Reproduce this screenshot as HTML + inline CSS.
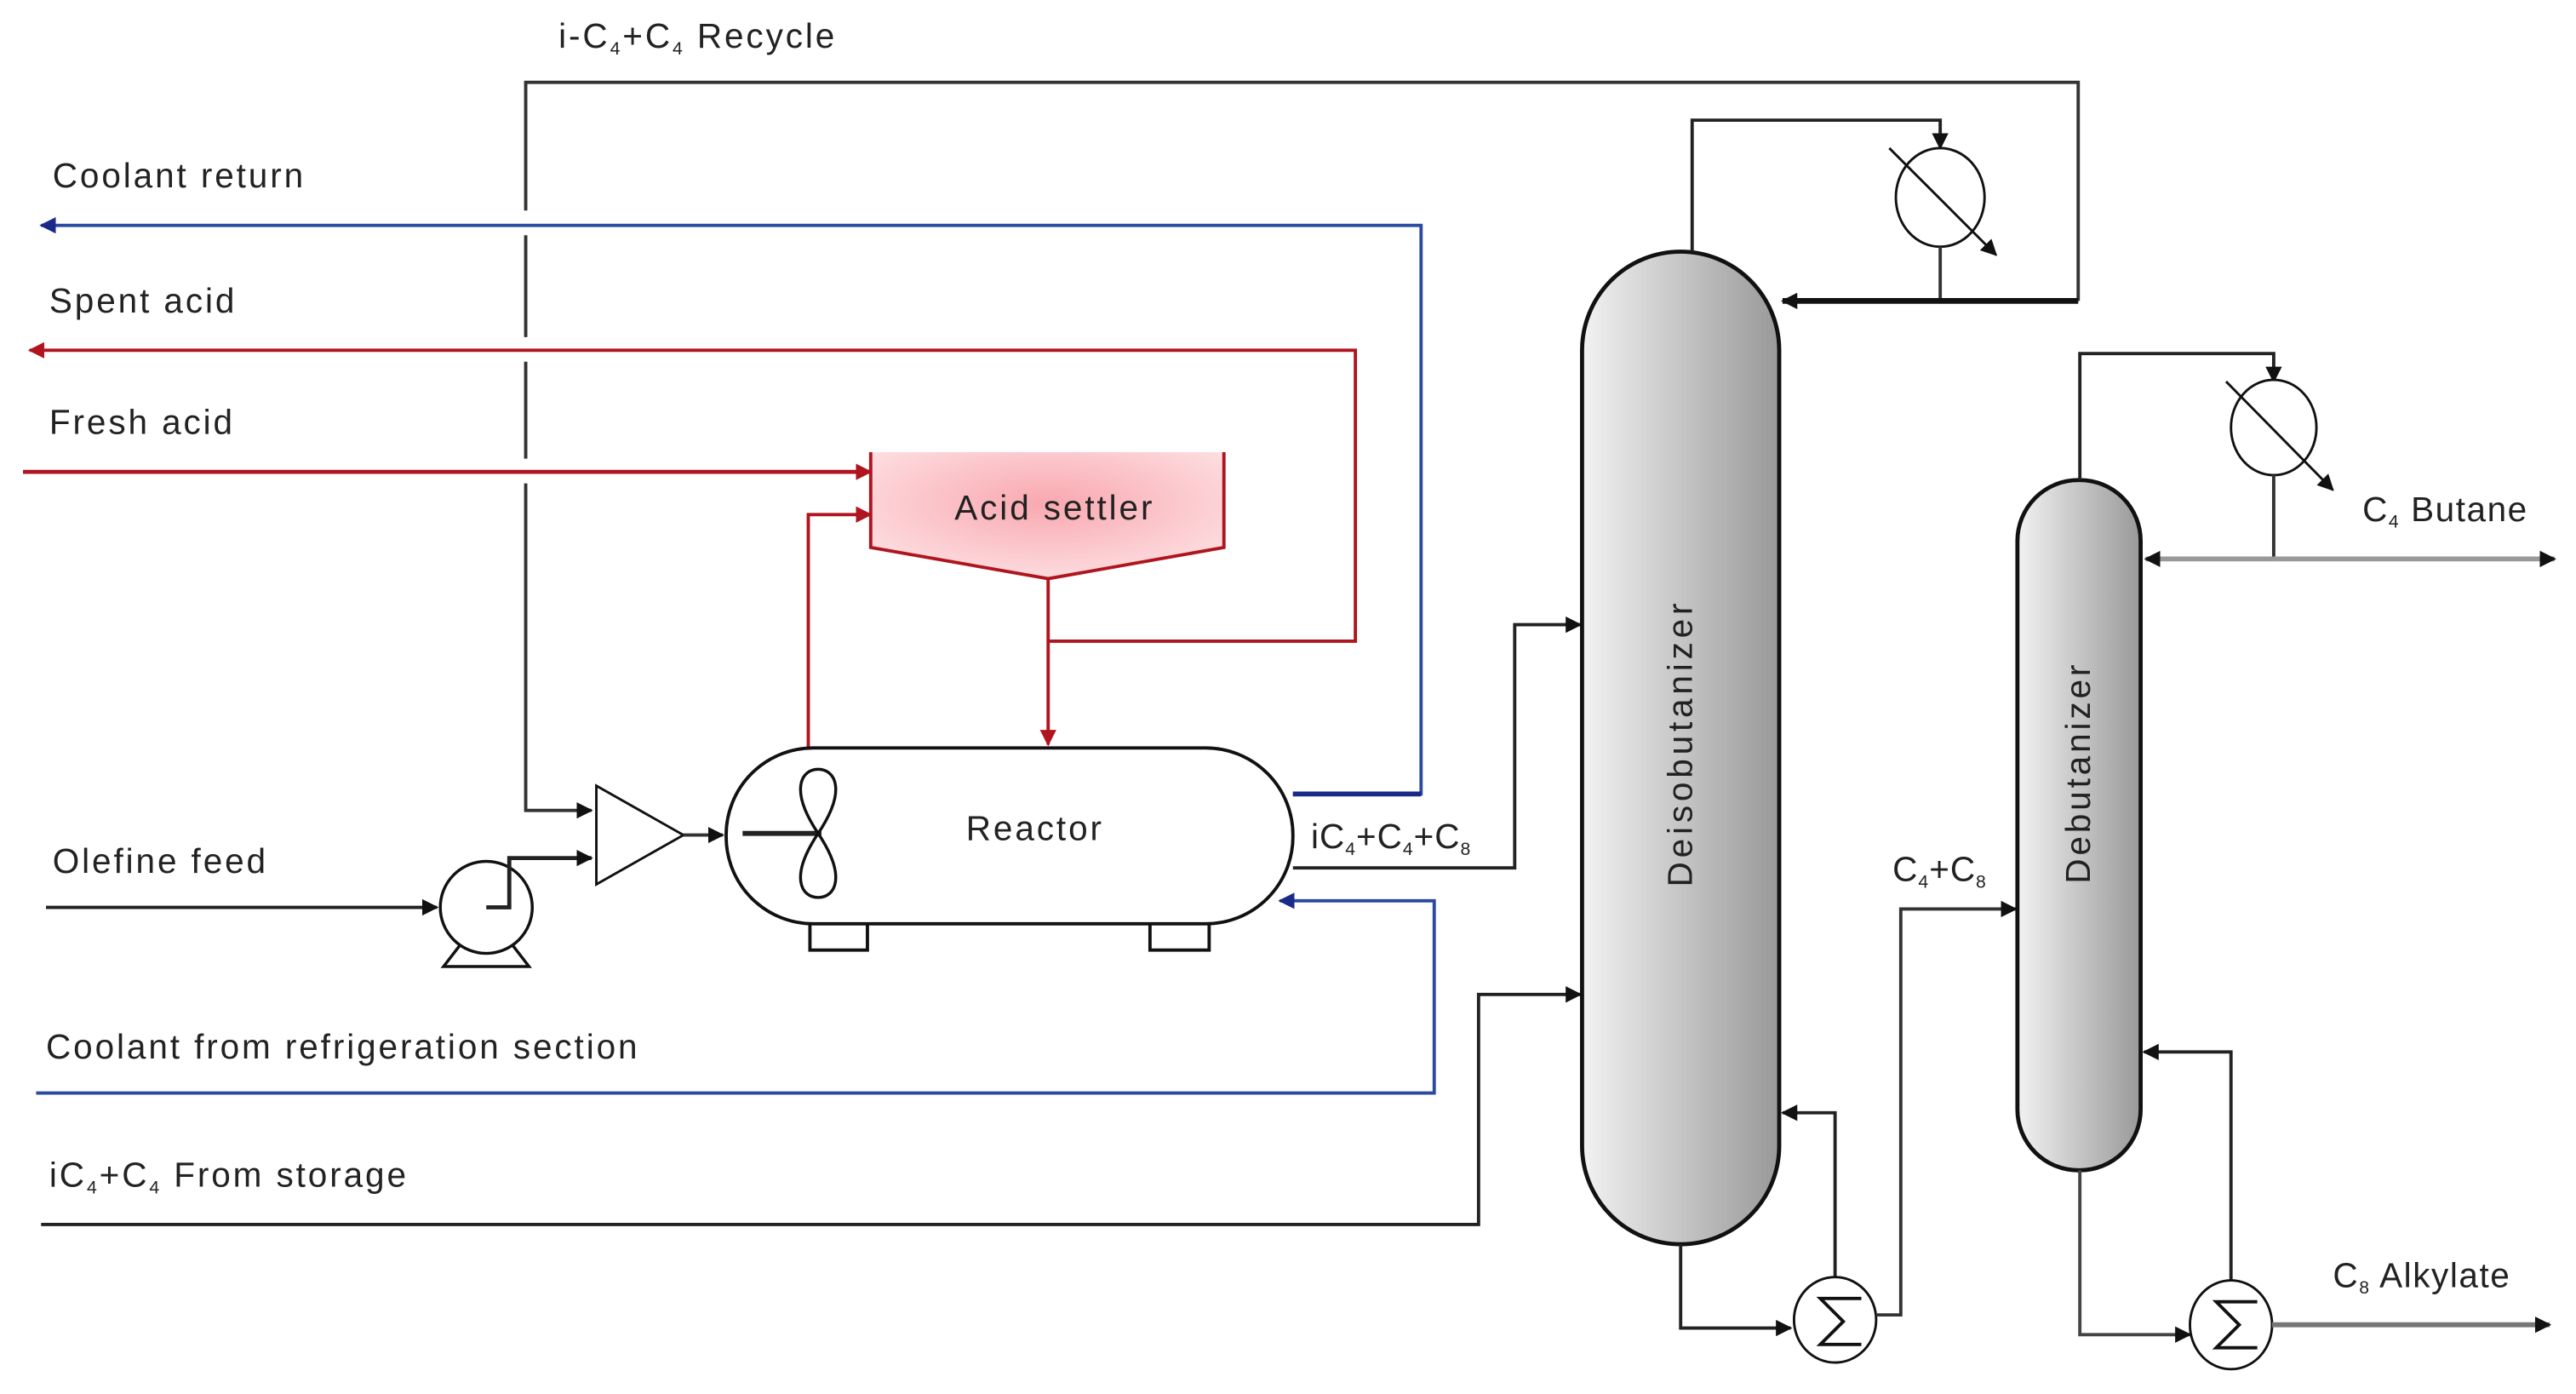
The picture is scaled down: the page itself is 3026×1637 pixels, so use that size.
<!DOCTYPE html>
<html><head><meta charset="utf-8"><style>
html,body{margin:0;padding:0;background:#fff;}
svg{display:block;}
text{font-family:"Liberation Sans",sans-serif;fill:#222;}
</style></head><body>
<svg width="3026" height="1637" viewBox="0 0 1568 848" xmlns="http://www.w3.org/2000/svg">
<defs>
<linearGradient id="col" x1="0" x2="1" y1="0" y2="0"><stop offset="0" stop-color="#f2f2f2"/><stop offset="1" stop-color="#999"/></linearGradient>
<radialGradient id="pink" cx="0.5" cy="0.4" r="0.7"><stop offset="0" stop-color="#f9a8b0"/><stop offset="1" stop-color="#fde4e6"/></radialGradient>
<marker id="ak" markerWidth="10" markerHeight="10" refX="9" refY="5" orient="auto" markerUnits="userSpaceOnUse"><path d="M0,0 L10,5 L0,10 z" fill="#111"/></marker>
<marker id="ar" markerWidth="10" markerHeight="10" refX="9" refY="5" orient="auto" markerUnits="userSpaceOnUse"><path d="M0,0 L10,5 L0,10 z" fill="#b0141e"/></marker>
<marker id="ab" markerWidth="10" markerHeight="10" refX="9" refY="5" orient="auto" markerUnits="userSpaceOnUse"><path d="M0,0 L10,5 L0,10 z" fill="#1a2a8a"/></marker>
</defs>
<g fill="none" stroke-linejoin="miter">
<path d="M1265,183 V50 H320 V128 M320,143 V205 M320,220 V279 M320,294 V493 H360" stroke="#333" stroke-width="2" marker-end="url(#ak)"/>
<path d="M787,483 H865 V137 H25" stroke="#2a4aa0" stroke-width="2" marker-end="url(#ab)"/>
<path d="M787,483 H865" stroke="#1a2a8a" stroke-width="3"/>
<path d="M638,390 H825 V213 H18" stroke="#b0141e" stroke-width="2" marker-end="url(#ar)"/>
<path d="M14,287 H530" stroke="#b0141e" stroke-width="2.5" marker-end="url(#ar)"/>
<path d="M492,455 V313 H530" stroke="#b0141e" stroke-width="2" marker-end="url(#ar)"/>
<path d="M638,352 V453" stroke="#b0141e" stroke-width="2" marker-end="url(#ar)"/>
<path d="M530,275 H745 V333 L638,352 L530,333 Z" fill="url(#pink)" stroke="none"/>
<path d="M530,275 V333 L638,352 L745,333 V275" stroke="#b0141e" stroke-width="2"/>
<rect x="442" y="455" width="345" height="107" rx="53" ry="53" fill="#fff" stroke="#111" stroke-width="2"/>
<path d="M493,562 V578 H528 V562 M700,562 V578 H736 V562" stroke="#111" stroke-width="2"/>
<path d="M452,507 H500" stroke="#222" stroke-width="3"/>
<path d="M498,507 C480,480 488,468 498,468 C508,468 516,480 498,507 C480,534 488,546 498,546 C508,546 516,534 498,507 Z" stroke="#111" stroke-width="1.8"/>
<path d="M363,478 V538 L416,508 Z" fill="#fff" stroke="#111" stroke-width="1.5"/>
<path d="M416,508 H440" stroke="#333" stroke-width="2" marker-end="url(#ak)"/>
<path d="M28,552 H266" stroke="#222" stroke-width="2" marker-end="url(#ak)"/>
<circle cx="296" cy="552" r="28" fill="#fff" stroke="#111" stroke-width="1.8"/>
<path d="M280,575 L270,588 H322 L312,575" stroke="#111" stroke-width="1.8"/>
<path d="M296,552 H310 V522 H360" stroke="#222" stroke-width="2.5" marker-end="url(#ak)"/>
<path d="M787,528 H922 V380 H962" stroke="#222" stroke-width="2" marker-end="url(#ak)"/>
<path d="M22,665 H873 V548 H779" stroke="#2a4aa0" stroke-width="2" marker-end="url(#ab)"/>
<path d="M25,745 H900 V605 H962" stroke="#222" stroke-width="2" marker-end="url(#ak)"/>
<rect x="963" y="153" width="120" height="604" rx="60" ry="60" fill="url(#col)" stroke="#111" stroke-width="2.5"/>
<path d="M1030,153 V73 H1181 V90" stroke="#222" stroke-width="2" marker-end="url(#ak)"/>
<ellipse cx="1181" cy="120" rx="27" ry="30" fill="#fff" stroke="#111" stroke-width="1.5"/>
<path d="M1150,90 L1215,155" stroke="#111" stroke-width="1.5" marker-end="url(#ak)"/>
<path d="M1181,150 V183" stroke="#333" stroke-width="2"/>
<path d="M1265,183 H1085" stroke="#111" stroke-width="3.5" marker-end="url(#ak)"/>
<path d="M1023,757 V808 H1090" stroke="#222" stroke-width="2" marker-end="url(#ak)"/>
<path d="M1117,778 V677 H1085" stroke="#222" stroke-width="2" marker-end="url(#ak)"/>
<ellipse cx="1117" cy="803" rx="25" ry="26" fill="#fff" stroke="#111" stroke-width="1.5"/>
<path d="M1133,790 H1108 L1122,804 L1108,818 H1133" stroke="#111" stroke-width="2"/>
<path d="M1142,800 H1157 V553 H1227" stroke="#333" stroke-width="2" marker-end="url(#ak)"/>
<rect x="1228" y="292" width="75" height="420" rx="37" ry="37" fill="url(#col)" stroke="#111" stroke-width="2.5"/>
<path d="M1266,292 V215 H1384 V232" stroke="#222" stroke-width="2" marker-end="url(#ak)"/>
<ellipse cx="1384" cy="260" rx="26" ry="29" fill="#fff" stroke="#111" stroke-width="1.5"/>
<path d="M1355,232 L1420,298" stroke="#111" stroke-width="1.5" marker-end="url(#ak)"/>
<path d="M1384,289 V340" stroke="#333" stroke-width="2"/>
<path d="M1384,340 H1555" stroke="#999" stroke-width="3" marker-end="url(#ak)"/>
<path d="M1384,340 H1306" stroke="#999" stroke-width="3" marker-end="url(#ak)"/>
<path d="M1266,712 V812 H1333" stroke="#444" stroke-width="2" marker-end="url(#ak)"/>
<path d="M1358,780 V640 H1305" stroke="#222" stroke-width="2" marker-end="url(#ak)"/>
<ellipse cx="1358" cy="806" rx="25" ry="27" fill="#fff" stroke="#111" stroke-width="1.5"/>
<path d="M1374,792 H1349 L1363,806 L1349,820 H1374" stroke="#111" stroke-width="2"/>
<path d="M1383,806 H1552" stroke="#777" stroke-width="3" marker-end="url(#ak)"/>
</g>
<g font-size="21" letter-spacing="1.5">
<text x="340" y="29">i-C<tspan font-size="11" dy="4">4</tspan><tspan dy="-4">+C</tspan><tspan font-size="11" dy="4">4</tspan><tspan dy="-4"> Recycle</tspan></text>
<text x="32" y="114">Coolant return</text>
<text x="30" y="190">Spent acid</text>
<text x="30" y="264">Fresh acid</text>
<text x="581" y="316">Acid settler</text>
<text x="588" y="511">Reactor</text>
<text x="32" y="531">Olefine feed</text>
<text x="798" y="516" letter-spacing="0.5">iC<tspan font-size="11" dy="4">4</tspan><tspan dy="-4">+C</tspan><tspan font-size="11" dy="4">4</tspan><tspan dy="-4">+C</tspan><tspan font-size="11" dy="4">8</tspan></text>
<text x="28" y="644">Coolant from refrigeration section</text>
<text x="30" y="722">iC<tspan font-size="11" dy="4">4</tspan><tspan dy="-4">+C</tspan><tspan font-size="11" dy="4">4</tspan><tspan dy="-4"> From storage</tspan></text>
<text x="1152" y="536" letter-spacing="0.5">C<tspan font-size="11" dy="4">4</tspan><tspan dy="-4">+C</tspan><tspan font-size="11" dy="4">8</tspan></text>
<text x="1438" y="317" letter-spacing="0.8">C<tspan font-size="11" dy="4">4</tspan><tspan dy="-4"> Butane</tspan></text>
<text x="1420" y="783" letter-spacing="0.8">C<tspan font-size="11" dy="4">8</tspan><tspan dy="-4"> Alkylate</tspan></text>
<text transform="translate(1030,452) rotate(-90)" text-anchor="middle" letter-spacing="2.5">Deisobutanizer</text>
<text transform="translate(1272,470) rotate(-90)" text-anchor="middle" letter-spacing="2">Debutanizer</text>
</g>
</svg>
</body></html>
